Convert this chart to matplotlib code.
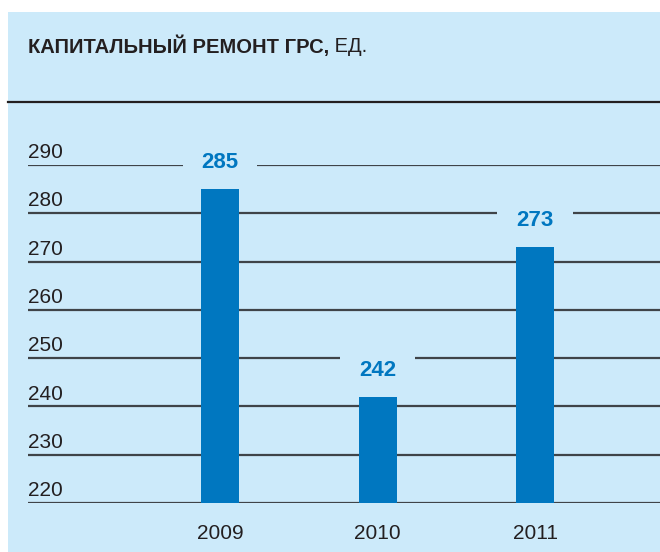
import matplotlib
matplotlib.use("Agg")
import matplotlib.pyplot as plt
from matplotlib.patches import Rectangle
from matplotlib.lines import Line2D

years = ["2009", "2010", "2011"]
values = [285, 242, 273]
yticks = [220, 230, 240, 250, 260, 270, 280, 290]

BG = "#CCEAFA"
BAR = "#0077C0"
GRID = "#3f4448"
TXT = "#231f20"
FAM = ["Liberation Sans", "DejaVu Sans"]
FS = 15

W, H = 660, 552
fig = plt.figure(figsize=(W / 100, H / 100), dpi=100)
fig.patch.set_facecolor("white")
fig.add_artist(Rectangle((8 / W, 0), 1 - 8 / W, (H - 12) / H,
                         transform=fig.transFigure, facecolor=BG,
                         edgecolor="none", zorder=0))
fig.add_artist(Line2D([8 / W, 1], [(H - 102) / H] * 2, transform=fig.transFigure,
                      color=TXT, lw=1.6, zorder=1))

# axes: left 28px, right 660px, y 220 at 503px, 290 at 165px
ax = fig.add_axes([28 / W, (H - 503) / H, (W - 28) / W, (503 - 165) / H])
ax.set_facecolor("none")
for s in ax.spines.values():
    s.set_visible(False)

t1 = fig.text(28 / W, (H - 46) / H, "КАПИТАЛЬНЫЙ РЕМОНТ ГРС,", family=FAM,
              fontweight="bold", fontsize=14.5, color=TXT, va="center", ha="left")
ax.annotate(" ЕД.", xy=(1, 0.5), xycoords=t1, va="center", ha="left",
            family=FAM, fontsize=14.5, color=TXT, annotation_clip=False)

x = list(range(len(years)))
ax.set_xlim(-(220 - 28) / 157.5, (660 - 220) / 157.5)
ax.set_ylim(220, 290)

for yv in yticks:
    ax.axhline(yv, color=GRID, lw=1.6, zorder=1)
    ax.text(0, yv + 0.6, str(yv), transform=ax.get_yaxis_transform(),
            ha="left", va="bottom", family=FAM, fontsize=FS, color=TXT)

ax.bar(x, [v - 220 for v in values], bottom=220, width=38 / 157.5,
       color=BAR, zorder=3)

for xi, v in zip(x, values):
    ax.annotate(str(v), xy=(xi, v), xytext=(0, 19), textcoords="offset points",
                ha="center", va="center", family=FAM, fontweight="bold",
                fontsize=16, color=BAR, zorder=2, annotation_clip=False,
                bbox=dict(boxstyle="square,pad=0.85", facecolor=BG, edgecolor="none"))

ax.set_yticks([])
ax.set_xticks(x)
ax.set_xticklabels(years, family=FAM, fontsize=FS, color=TXT)
ax.tick_params(axis="x", length=0, pad=15)

fig.savefig("out.png", dpi=100, facecolor="white")
